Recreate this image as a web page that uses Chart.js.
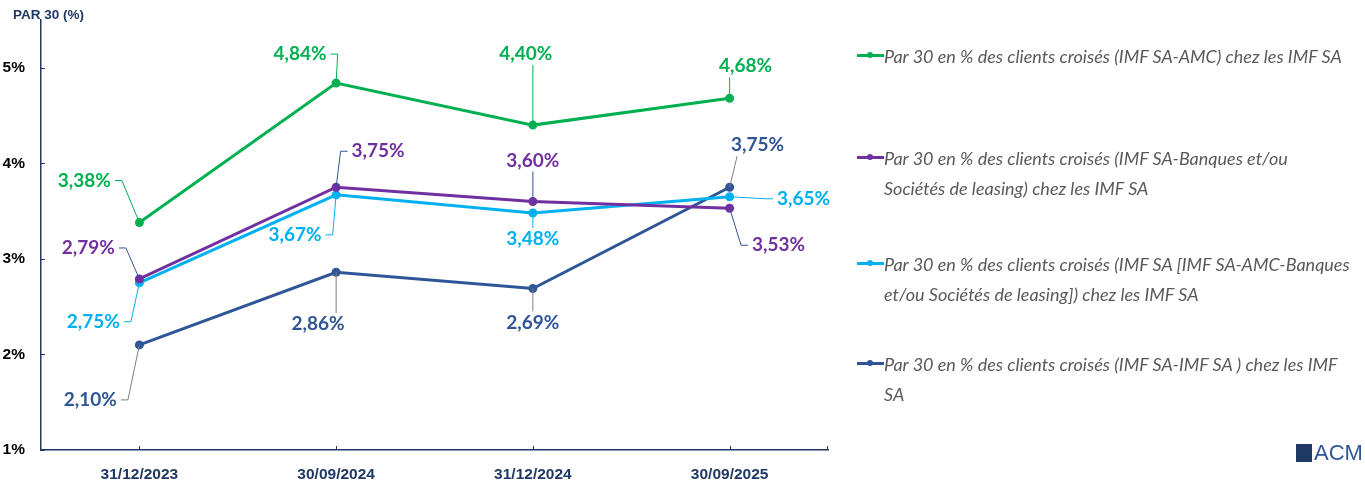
<!DOCTYPE html>
<html>
<head>
<meta charset="utf-8">
<script src="https://cdn.jsdelivr.net/npm/chart.js@4.4.1/dist/chart.umd.min.js"></script>
<style>
  body { margin: 0; background: #fff; }
  #wrap { position: relative; width: 1365px; height: 486px; }
  #title { position: absolute; left: 13px; top: 7px; font: bold 13.5px "Liberation Sans", Arial, sans-serif; color: #1F3864; }
  #legend { position: absolute; left: 857px; top: 0; width: 505px; }
  .item { position: absolute; left: 0; display: flex; align-items: flex-start; font: italic 18px Lato, sans-serif; color: #595959; line-height: 30px; white-space: nowrap; }
  .mark { position: relative; width: 27px; height: 30px; flex: none; }
  .mark i { position: absolute; left: 0; right: 0; top: 13px; height: 3px; }
  .mark b { position: absolute; left: 10px; top: 11px; width: 6px; height: 6px; border-radius: 50%; }
  #logo { position: absolute; left: 1296px; top: 440px; font: 22px "Liberation Sans", Arial, sans-serif; color: #2F5597; }
  #logo span { display: inline-block; width: 16px; height: 18px; background: #1F3864; margin-right: 2px; vertical-align: -2px; }
</style>
</head>
<body>
<div id="wrap">
  <canvas id="lineChart" width="1365" height="486"></canvas>
  <div id="title">PAR 30 (%)</div>
  <div id="legend"></div>
  <div id="logo"><span></span>ACM</div>
</div>
<script>
// Data
const dates = ['31/12/2023', '30/09/2024', '31/12/2024', '30/09/2025'];

const parAmc = [3.38, 4.84, 4.40, 4.68];
const parBanques = [2.79, 3.75, 3.60, 3.53];
const parTous = [2.75, 3.67, 3.48, 3.65];
const parImf = [2.10, 2.86, 2.69, 3.75];

const seriesNames = [
  ['Par 30 en % des clients croisés (IMF SA-AMC) chez les IMF SA'],
  ['Par 30 en % des clients croisés  (IMF SA-Banques et/ou', 'Sociétés de leasing) chez les IMF SA'],
  ['Par 30 en % des clients croisés (IMF SA [IMF SA-AMC-Banques', 'et/ou Sociétés de leasing]) chez les IMF SA'],
  ['Par 30 en % des clients croisés (IMF SA-IMF SA ) chez les IMF', 'SA']
];

const colors = ['#00B050', '#7030A0', '#00B0F0', '#2F5597'];
const leaderColors = [
  ['#00B050', '#00B050', '#00B050', '#00B050'],
  ['#2F5597', '#2F5597', '#2F5597', '#2F5597'],
  ['#00B0F0', '#00B0F0', '#00B0F0', '#00B0F0'],
  ['#7F7F7F', '#7F7F7F', '#7F7F7F', '#7F7F7F']
];
// label offset from its point (dx, dy)
const labelOffsets = [
  [[-55, -42], [-36, -29], [-7, -71], [16, -32]],
  [[-51, -31], [42, -36], [0, -41], [49, 37]],
  [[-46, 39], [-41, 40], [0, 26], [74, 2]],
  [[-49, 55], [-18, 52], [0, 34], [28, -42]]
];
const legendTops = [41, 143, 249, 349];

// Legend
const legend = document.getElementById('legend');
seriesNames.forEach((lines, i) => {
  const div = document.createElement('div');
  div.className = 'item';
  div.style.top = legendTops[i] + 'px';
  div.innerHTML = '<div class="mark"><i style="background:' + colors[i] + '"></i><b style="background:' + colors[i] + '"></b></div><div>' + lines.join('<br>') + '</div>';
  legend.appendChild(div);
});

const fmt = v => v.toFixed(2).replace('.', ',') + '%';

// data labels with leader lines
const labelPlugin = {
  id: 'labels',
  afterDatasetsDraw(chart) {
    const ctx = chart.ctx;
    ctx.save();
    ctx.font = 'bold 19px Lato, sans-serif';
    ctx.textAlign = 'center';
    ctx.textBaseline = 'middle';
    chart.data.datasets.forEach((ds, d) => {
      chart.getDatasetMeta(d).data.forEach((pt, i) => {
        const [dx, dy] = labelOffsets[d][i];
        const text = fmt(ds.data[i]);
        const w = ctx.measureText(text).width;
        const h = 18;
        const cx = pt.x + dx, cy = pt.y + dy;
        ctx.strokeStyle = leaderColors[d][i];
        ctx.lineWidth = 1;
        ctx.beginPath();
        if (Math.abs(dx) < w / 2 + 2) {
          const lx = Math.min(Math.max(pt.x, cx - w / 2 + 6), cx + w / 2 - 6);
          const ly = dy < 0 ? cy + h / 2 + 2 : cy - h / 2 - 2;
          ctx.moveTo(pt.x, pt.y);
          ctx.lineTo(lx, ly);
        } else {
          const side = dx > 0 ? -1 : 1;
          const ex = cx + side * (w / 2 + 4);
          const elbow = ex + side * 7;
          ctx.moveTo(ex, cy);
          ctx.lineTo(elbow, cy);
          ctx.lineTo(pt.x, pt.y);
        }
        ctx.stroke();
        ctx.fillStyle = colors[d];
        ctx.fillText(text, cx, cy);
      });
    });
    ctx.restore();
  }
};

// tick marks drawn inside the plot
const tickPlugin = {
  id: 'innerTicks',
  afterDraw(chart) {
    const ctx = chart.ctx, x = chart.scales.x, y = chart.scales.y;
    const a = chart.chartArea;
    ctx.save();
    ctx.strokeStyle = '#1F3864';
    ctx.lineWidth = 1;
    ctx.beginPath();
    y.ticks.forEach((t, i) => {
      const py = Math.round(y.getPixelForTick(i)) + 0.5;
      ctx.moveTo(a.left, py); ctx.lineTo(a.left + 4, py);
    });
    x.ticks.forEach((t, i) => {
      const px = Math.round(x.getPixelForTick(i)) + 0.5;
      ctx.moveTo(px, a.bottom); ctx.lineTo(px, a.bottom - 4);
    });
    ctx.moveTo(a.right - 0.5, a.bottom); ctx.lineTo(a.right - 0.5, a.bottom - 4);
    ctx.stroke();
    ctx.restore();
  }
};

const allSeries = [parAmc, parBanques, parTous, parImf];

const lineCtx = document.getElementById('lineChart').getContext('2d');
let lineChart = new Chart(lineCtx, {
  type: 'line',
  data: {
    labels: dates,
    datasets: allSeries.map((s, i) => ({
      label: seriesNames[i].join(' '),
      data: s,
      borderColor: colors[i],
      backgroundColor: colors[i],
      borderWidth: 3,
      pointRadius: 3,
      pointHoverRadius: 3,
      fill: false,
      tension: 0
    }))
  },
  options: {
    responsive: false,
    animation: false,
    layout: { padding: { top: 20, right: 537, left: 0, bottom: 0 } },
    plugins: { legend: { display: false }, tooltip: { enabled: false } },
    scales: {
      x: {
        offset: true,
        grid: { display: false },
        border: { color: '#1F3864', width: 1.5 },
        ticks: { color: '#1F3864', font: { family: 'Liberation Sans', size: 15.5, weight: 'bold' }, padding: 7 },
        afterFit: s => { s.height = 36; }
      },
      y: {
        min: 1,
        max: 5.5,
        grid: { display: false },
        border: { color: '#1F3864', width: 1.5 },
        ticks: {
          stepSize: 1,
          color: '#000',
          font: { family: 'Liberation Sans', size: 15.5, weight: 'bold' },
          padding: 8,
          callback: v => v + '%'
        },
        afterBuildTicks: s => { s.ticks = s.ticks.filter(t => Number.isInteger(t.value)); },
        afterFit: s => { s.width = 41; }
      }
    }
  },
  plugins: [labelPlugin, tickPlugin]
});
</script>
</body>
</html>
